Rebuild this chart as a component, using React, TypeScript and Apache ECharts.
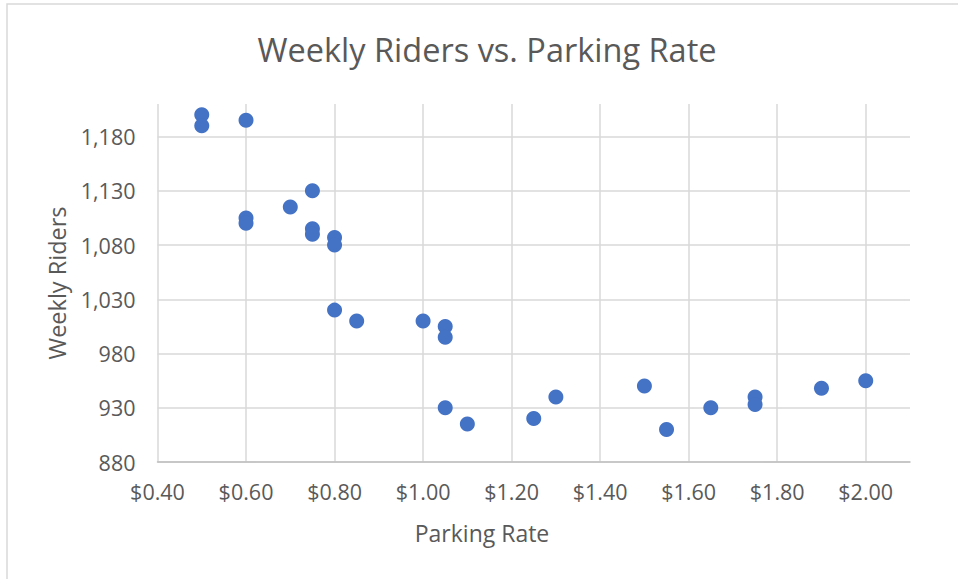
import React, { useEffect, useRef } from "react";
import * as echarts from "echarts";

const parkingRate = [0.5, 0.5, 0.6, 0.75, 0.7, 0.6, 0.6, 0.75, 0.75, 0.8, 0.8, 0.8, 0.85, 1.0, 1.05, 1.05, 1.05, 1.1, 1.25, 1.3, 1.5, 1.55, 1.65, 1.75, 1.75, 1.9, 2.0];
const weeklyRiders = [1200, 1190, 1195, 1130, 1115, 1105, 1100, 1095, 1090, 1087, 1080, 1020, 1010, 1010, 1005, 995, 930, 915, 920, 940, 950, 910, 930, 940, 933, 948, 955];
const xTicks = [0.4, 0.6, 0.8, 1.0, 1.2, 1.4, 1.6, 1.8, 2.0];
const yTicks = [880, 930, 980, 1030, 1080, 1130, 1180];

const FONT = "'Open Sans', sans-serif";
const GRAY = "#595959";

export default function App() {
  const ref = useRef<HTMLDivElement>(null);
  useEffect(() => {
    if (!ref.current) return;
    const chart = echarts.init(ref.current, null, { renderer: "svg" });
    const data = parkingRate.map((x, i) => [x, weeklyRiders[i]]);
    chart.setOption({
      animation: false,
      backgroundColor: "#ffffff",
      textStyle: { fontFamily: FONT },
      grid: { left: 157.5, top: 104, right: 48, bottom: 117, containLabel: false },
      xAxis: {
        type: "value",
        min: 0.4,
        max: 2.1,
        axisLine: { show: true, lineStyle: { color: "#bfbfbf", width: 1.5 } },
        axisTick: { show: false, customValues: xTicks },
        axisLabel: {
          customValues: xTicks,
          color: GRAY,
          fontSize: 21.5,
          fontFamily: FONT,
          margin: 18,
          formatter: (v: number) => "$" + v.toFixed(2),
        },
        splitLine: { show: true, lineStyle: { color: "#d9d9d9", width: 1.5 } },
      },
      yAxis: {
        type: "value",
        min: 880,
        max: 1210,
        axisLine: { show: false },
        axisTick: { show: false, customValues: yTicks },
        axisLabel: {
          customValues: yTicks,
          color: GRAY,
          fontSize: 21.5,
          fontFamily: FONT,
          margin: 22,
          formatter: (v: number) => v.toLocaleString("en-US"),
        },
        splitLine: { show: true, lineStyle: { color: "#d9d9d9", width: 1.5 } },
      },
      series: [
        {
          type: "scatter",
          data,
          symbolSize: 15,
          itemStyle: { color: "#4472C4", opacity: 1 },
        },
      ],
      graphic: [
        {
          type: "rect",
          shape: { x: 7, y: 4, width: 1000, height: 700 },
          style: { fill: "none", stroke: "#d9d9d9", lineWidth: 1.5 },
          silent: true,
          z: -10,
        },
        {
          type: "text",
          x: 487,
          y: 49,
          style: {
            text: "Weekly Riders vs. Parking Rate",
            fill: GRAY,
            font: "32.5px 'Open Sans', sans-serif",
            textAlign: "center",
            textVerticalAlign: "middle",
          },
        },
        {
          type: "text",
          x: 482,
          y: 533,
          style: {
            text: "Parking Rate",
            fill: GRAY,
            font: "23px 'Open Sans', sans-serif",
            textAlign: "center",
            textVerticalAlign: "middle",
          },
        },
        {
          type: "text",
          x: 57,
          y: 283,
          rotation: Math.PI / 2,
          style: {
            text: "Weekly Riders",
            fill: GRAY,
            font: "23.5px 'Open Sans', sans-serif",
            textAlign: "center",
            textVerticalAlign: "middle",
          },
        },
      ],
    });
    return () => chart.dispose();
  }, []);
  return (
    <div
      ref={ref}
      style={{ position: "fixed", left: 0, top: 0, width: 958, height: 579 }}
    />
  );
}
